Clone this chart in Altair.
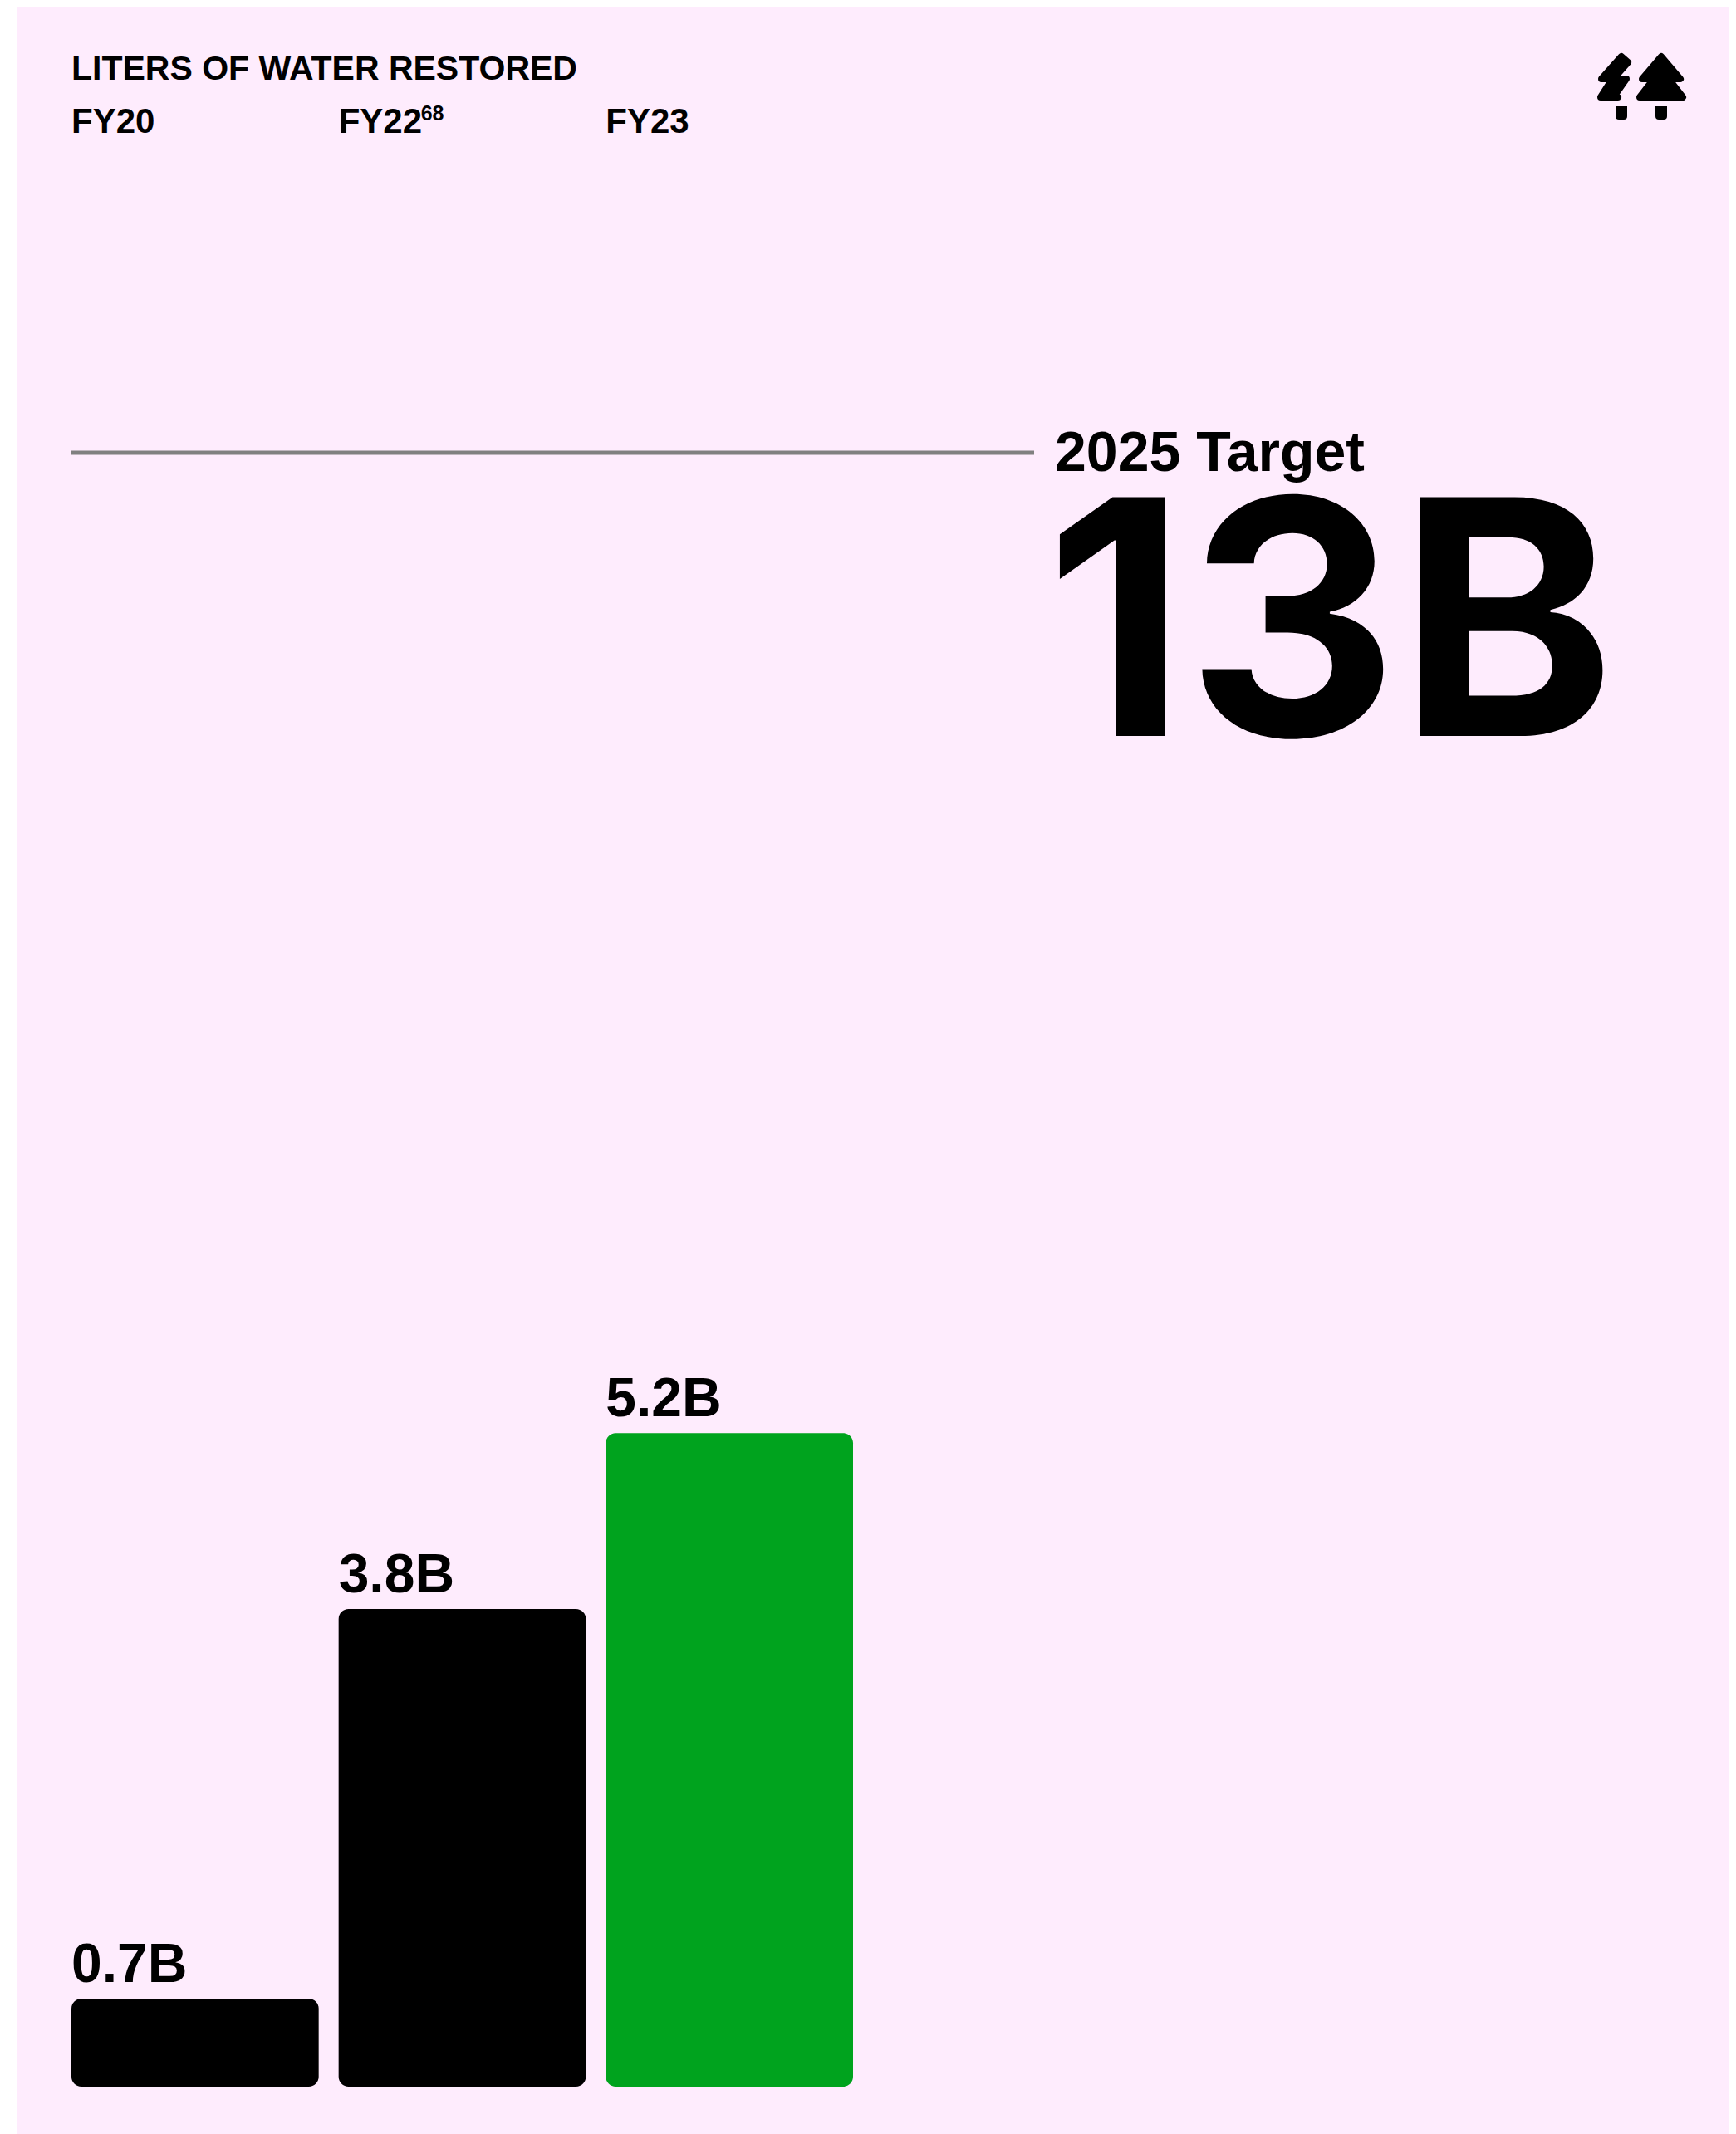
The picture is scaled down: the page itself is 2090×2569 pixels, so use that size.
import altair as alt
import pandas as pd

years = ["FY20", "FY22", "FY23"]
values = [0.7, 3.8, 5.2]
labels = ["0.7B", "3.8B", "5.2B"]
bar_colors = ["#000000", "#000000", "#00A31E"]
target = [13]
PINK = "#FEECFD"
FONT = "Liberation Sans"

TREE_R = "M24 -36L47 -9L33 -9L50 13L-2 13L15 -9L1 -9Z"
TREE_L = "M-24 -36L-16 -29L-31 -12L-27 -9L-18 -9L-32 11L-28 13L-49 13L-35 -9L-48 -9Z"
TRUNK_R = "M17 24H31V36Q31 40 27 40H21Q17 40 17 36Z"
TRUNK_L = "M-31 24H-17V36Q-17 40 -21 40H-27Q-31 40 -31 36Z"

bars_df = pd.DataFrame({"fy": years, "v": values, "label": labels, "c": bar_colors})
x_scale = alt.Scale(domain=years, range=[65, 1006], paddingInner=0.0746, paddingOuter=0)
y_scale = alt.Scale(domain=[-0.3767, 16.55], range=[2561, 0], nice=False, zero=False)
x_enc = alt.X("fy:N", scale=x_scale, axis=None, bandPosition=0)
y_enc = alt.Y("v:Q", scale=y_scale, axis=None)


def text_mark(df, size, font=FONT, **kw):
    return alt.Chart(df).mark_text(
        font=font, fontWeight="bold", fontSize=size, align="left", baseline="alphabetic", color="#000", **kw
    )


bars = alt.Chart(bars_df).mark_bar(cornerRadius=12).encode(
    x=alt.X("fy:N", scale=x_scale, axis=None),
    y=y_enc,
    y2=alt.datum(0),
    color=alt.Color("c:N", scale=None),
)
value_text = text_mark(bars_df, 66, dy=-20).encode(x=x_enc, y=y_enc, text="label:N")
header_fy = text_mark(bars_df, 42).encode(x=x_enc, y=alt.value(152), text="fy:N")
sup = text_mark(pd.DataFrame({"fy": ["FY22"], "t": ["68"]}), 25, dx=99).encode(
    x=x_enc, y=alt.value(137), text="t:N"
)
title = text_mark(pd.DataFrame({"t": ["LITERS OF WATER RESTORED"]}), 41).encode(
    x=alt.value(65), y=alt.value(88), text="t:N"
)
rule = alt.Chart(pd.DataFrame({"v": target})).mark_rule(color="#808080", strokeWidth=5).encode(
    x=alt.value(65), x2=alt.value(1224), y=y_enc
)
target_label = text_mark(pd.DataFrame({"t": ["2025 Target"]}), 68).encode(
    x=alt.value(1249), y=alt.value(559), text="t:N"
)
big = text_mark(pd.DataFrame({"t": ["13B"]}), 395, font="Inter").encode(
    x=alt.value(1237), y=alt.value(878), text="t:N"
)
crowns = [
    alt.Chart(pd.DataFrame({"k": [p]})).mark_point(
        shape=p, size=4, filled=True, fill="#000", stroke="#000", strokeWidth=8, strokeJoin="round", opacity=1
    ).encode(x=alt.value(1955), y=alt.value(96))
    for p in [TREE_L, TREE_R]
]
trunks = [
    alt.Chart(pd.DataFrame({"k": [p]})).mark_point(
        shape=p, size=4, filled=True, fill="#000", strokeWidth=0, opacity=1
    ).encode(x=alt.value(1955), y=alt.value(96))
    for p in [TRUNK_L, TRUNK_R]
]

chart = alt.layer(
    bars, value_text, header_fy, sup, title, rule, target_label, big, *crowns, *trunks
).resolve_scale(x="shared", y="shared").properties(
    width=2061, height=2561,
    padding={"left": 13, "top": 0, "right": 0, "bottom": 0},
    autosize=alt.AutoSizeParams(type="none"),
    background="transparent",
).configure_view(fill=PINK, stroke=None)

chart.save("out.html", embed_options={"renderer": "svg", "actions": False})
